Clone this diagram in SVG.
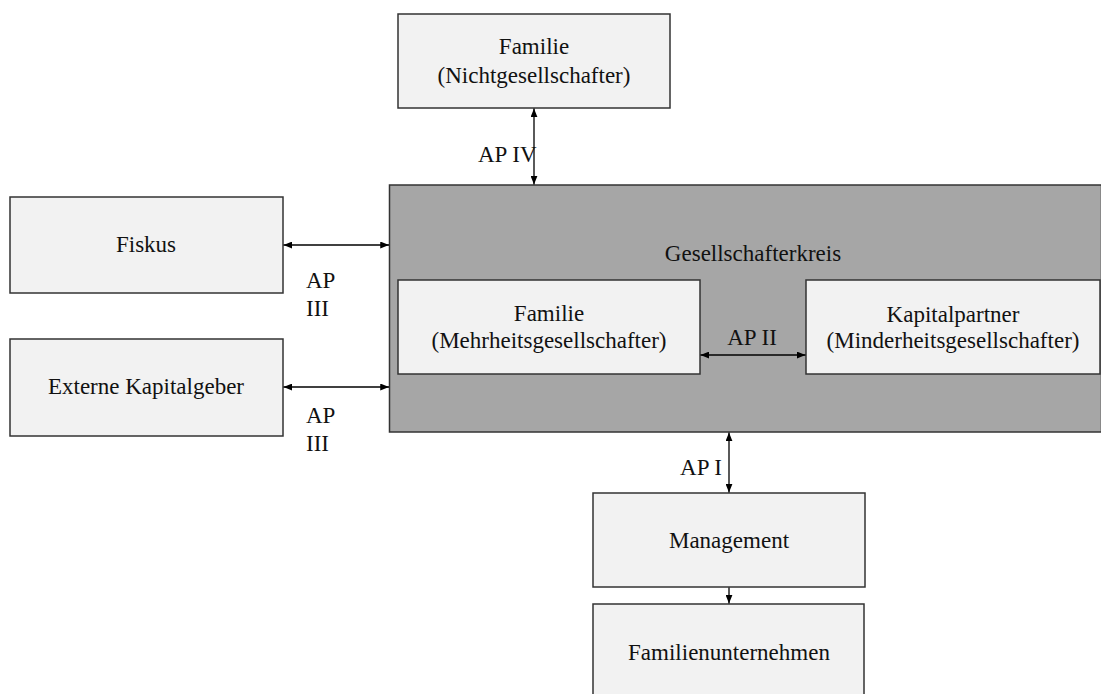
<svg xmlns="http://www.w3.org/2000/svg" width="1101" height="694" viewBox="0 0 1101 694">
  <style>
    .box { fill: #f2f2f2; stroke: #333333; stroke-width: 1.5; }
    .outer { fill: #a6a6a6; stroke: #333333; stroke-width: 1.5; }
    text { font-family: "Liberation Serif", "Times New Roman", serif; font-size: 23px; fill: #111111; }
    .c { text-anchor: middle; }
    .link { stroke: #000000; stroke-width: 1.3; fill: none; }
  </style>
  <defs>
    <marker id="head" viewBox="0 0 10 8" refX="10" refY="4" markerWidth="9" markerHeight="7" markerUnits="userSpaceOnUse" orient="auto-start-reverse">
      <path d="M0,0 L10,4 L0,8 z" fill="#000000"/>
    </marker>
  </defs>

  <rect width="1101" height="694" fill="#ffffff"/>

  <!-- outer circle of shareholders, with its two member boxes -->
  <g id="gesellschafterkreis">
    <rect class="outer" x="389.5" y="185" width="712" height="247"/>
    <text class="c" x="753" y="261">Gesellschafterkreis</text>
  </g>
  <g id="familie-mehrheit">
    <rect class="box" x="398" y="280" width="302" height="94"/>
    <text class="c" x="549" y="321">Familie</text>
    <text class="c" x="549" y="348">(Mehrheitsgesellschafter)</text>
  </g>
  <g id="kapitalpartner">
    <rect class="box" x="806" y="280" width="294" height="94"/>
    <text class="c" x="953" y="322">Kapitalpartner</text>
    <text class="c" x="953" y="348">(Minderheitsgesellschafter)</text>
  </g>

  <g id="familie-nicht">
    <rect class="box" x="398" y="14" width="272" height="94"/>
    <text class="c" x="534" y="54">Familie</text>
    <text class="c" x="534" y="83">(Nichtgesellschafter)</text>
  </g>
  <g id="fiskus">
    <rect class="box" x="10" y="197" width="273" height="96"/>
    <text class="c" x="146" y="252">Fiskus</text>
  </g>
  <g id="externe">
    <rect class="box" x="10" y="339" width="273" height="97"/>
    <text class="c" x="146" y="394">Externe Kapitalgeber</text>
  </g>
  <g id="management">
    <rect class="box" x="593" y="493" width="272" height="94"/>
    <text class="c" x="729" y="548">Management</text>
  </g>
  <g id="familienunternehmen">
    <rect class="box" x="593" y="604" width="271" height="100"/>
    <text class="c" x="729" y="660">Familienunternehmen</text>
  </g>

  <!-- agency relations -->
  <g id="connectors">
    <line class="link" x1="534" y1="108.5" x2="534" y2="184.5" marker-start="url(#head)" marker-end="url(#head)"/>
    <line class="link" x1="283.5" y1="245" x2="389" y2="245" marker-start="url(#head)" marker-end="url(#head)"/>
    <line class="link" x1="283.5" y1="387" x2="389" y2="387" marker-start="url(#head)" marker-end="url(#head)"/>
    <line class="link" x1="700.5" y1="355" x2="805.5" y2="355" marker-start="url(#head)" marker-end="url(#head)"/>
    <line class="link" x1="729" y1="432.5" x2="729" y2="492.5" marker-start="url(#head)" marker-end="url(#head)"/>
    <line class="link" x1="729" y1="587.5" x2="729" y2="603.5" marker-end="url(#head)"/>

    <text x="478" y="162">AP IV</text>
    <text x="306" y="288">AP</text>
    <text x="306" y="316">III</text>
    <text x="306" y="423">AP</text>
    <text x="306" y="451">III</text>
    <text class="c" x="752" y="345">AP II</text>
    <text x="722" y="475" text-anchor="end">AP I</text>
  </g>
</svg>
